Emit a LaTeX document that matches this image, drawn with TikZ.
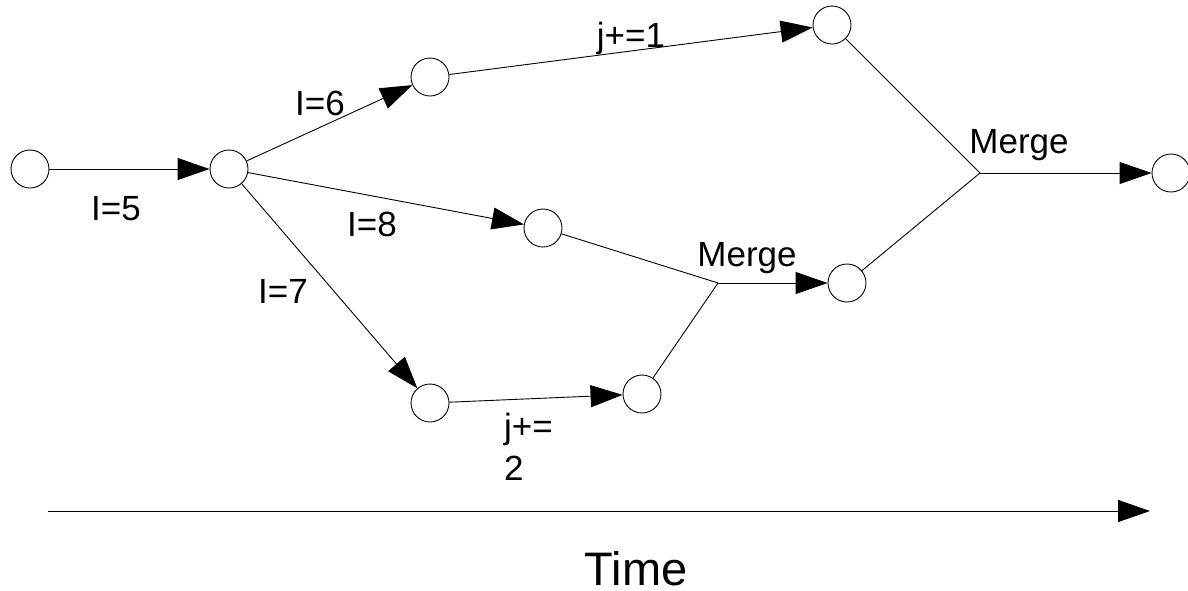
\documentclass[tikz,border=0pt]{standalone}
\usepackage{fontspec}
\setmainfont{Liberation Sans}
\usetikzlibrary{arrows.meta}
\begin{document}
\begin{tikzpicture}[x=1pt,y=-1pt,
  state/.style={circle,draw,minimum size=38pt,inner sep=0pt,line width=0.9pt},
  flow/.style={draw,line width=0.9pt,-{Triangle[length=32pt,width=22pt]}},
  link/.style={draw,line width=0.9pt},
  lbl/.style={font=\fontsize{35}{42}\selectfont,inner sep=0pt,anchor=base},
  big/.style={font=\fontsize{47}{54}\selectfont,inner sep=0pt,anchor=base}]
\useasboundingbox (0,0) rectangle (1188,590);

% states
\node[state] (a) at (30,169) {};
\node[state] (b) at (229,169) {};
\node[state] (c) at (430,77) {};
\node[state] (d) at (832,25) {};
\node[state] (e) at (543,228) {};
\node[state] (f) at (847,283) {};
\node[state] (g) at (1171,173) {};
\node[state] (h) at (430,403) {};
\node[state] (i) at (642,394) {};

% merge points
\coordinate (m1) at (718,283);
\coordinate (m2) at (980,173);

% transitions
\draw[flow] (a) -- (b);
\draw[flow] (b) -- (c);
\draw[flow] (c) -- (d);
\draw[flow] (b) -- (e);
\draw[flow] (b) -- (h);
\draw[flow] (h) -- (i);
\draw[link] (e) -- (m1);
\draw[link] (i) -- (m1);
\draw[flow] (m1) -- (f);
\draw[link] (d) -- (m2);
\draw[link] (f) -- (m2);
\draw[flow] (m2) -- (g);

% labels (placed by baseline)
\node[lbl] (l5) at (116,220) {I=5};
\node[lbl] (l6) at (320,115) {I=6};
\node[lbl] (l1) at (631,47) {j+=1};
\node[lbl] (l8) at (372,236) {I=8};
\node[lbl] (l7) at (283,303) {I=7};
\node[lbl] (mg2) at (1019,153) {Merge};
\node[lbl] (mg1) at (747,266) {Merge};
\node[lbl,align=left,anchor=north west] (l2) at (504,413) {j+=\\2};

% time axis
\coordinate (t0) at (48,511);
\coordinate (t1) at (1150,511);
\draw[flow] (t0) -- (t1);
\node[big] (time) at (636,585) {Time};
\end{tikzpicture}
\end{document}
